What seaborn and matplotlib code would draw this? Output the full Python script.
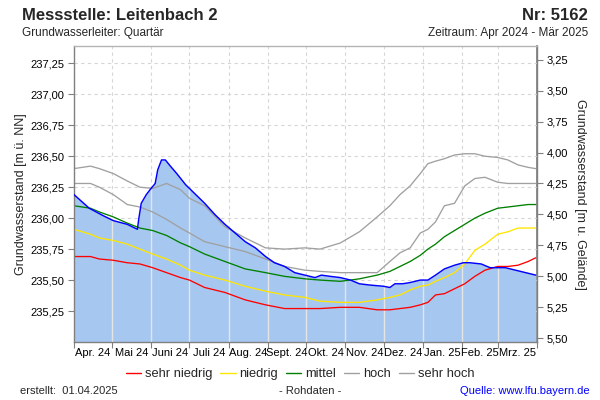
import matplotlib
matplotlib.use("Agg")
import matplotlib.pyplot as plt
from matplotlib.lines import Line2D
from matplotlib.ticker import FuncFormatter
import numpy as np
import pandas as pd
import seaborn as sns

# ---------------- data ----------------
START = "2024-04-01"
GROUND = 240.53  # Geländehöhe [m ü. NN]

stat_days = [0, 13, 20, 31, 42, 52, 62, 73, 84, 91, 103, 119, 135, 151, 166, 182, 194,
             210, 225, 239, 249, 257, 265, 273, 279, 285, 292, 300, 308, 316, 324, 334,
             342, 350, 358, 364]
sehr_hoch = [236.40, 236.42, 236.40, 236.36, 236.30, 236.25, 236.24, 236.28, 236.23, 236.16,
             236.10, 235.93, 235.84, 235.76, 235.75, 235.76, 235.75, 235.80, 235.89, 236.01,
             236.10, 236.19, 236.26, 236.36, 236.44, 236.46, 236.48, 236.51, 236.52, 236.52,
             236.50, 236.49, 236.47, 236.43, 236.41, 236.40]
hoch = [236.28, 236.28, 236.25, 236.19, 236.11, 236.09, 236.05, 235.99, 235.92, 235.88,
        235.81, 235.77, 235.73, 235.67, 235.61, 235.58, 235.57, 235.56, 235.56, 235.56,
        235.65, 235.72, 235.76, 235.88, 235.91, 235.97, 236.10, 236.12, 236.26, 236.32,
        236.33, 236.29, 236.28, 236.28, 236.28, 236.28]
mittel = [236.10, 236.08, 236.05, 236.01, 235.96, 235.92, 235.90, 235.86, 235.80, 235.77,
          235.71, 235.65, 235.59, 235.56, 235.53, 235.51, 235.50, 235.49, 235.51, 235.54,
          235.57, 235.61, 235.65, 235.70, 235.75, 235.79, 235.85, 235.90, 235.95, 236.00,
          236.04, 236.08, 236.09, 236.10, 236.11, 236.11]
niedrig = [235.91, 235.87, 235.84, 235.82, 235.79, 235.75, 235.71, 235.67, 235.62, 235.58,
           235.54, 235.50, 235.45, 235.41, 235.38, 235.36, 235.33, 235.32, 235.32, 235.34,
           235.36, 235.38, 235.42, 235.45, 235.46, 235.49, 235.52, 235.56, 235.63, 235.74,
           235.79, 235.87, 235.89, 235.92, 235.92, 235.92]
sehr_niedrig = [235.69, 235.69, 235.67, 235.66, 235.64, 235.63, 235.60, 235.56, 235.52, 235.50,
                235.44, 235.40, 235.34, 235.30, 235.27, 235.27, 235.27, 235.28, 235.28, 235.26,
                235.26, 235.27, 235.28, 235.30, 235.32, 235.38, 235.39, 235.43, 235.47, 235.53,
                235.58, 235.61, 235.61, 235.62, 235.65, 235.68]

mess_days = [0, 12, 23, 31, 42, 50, 51, 53, 57, 60, 64, 66, 69, 72, 76, 81, 88, 95, 103, 111,
             119, 127, 135, 143, 151, 158, 166, 174, 182, 186, 190, 195, 202, 210, 218, 225,
             233, 244, 249, 253, 259, 265, 273, 279, 285, 292, 300, 307, 312, 321, 328, 340,
             348, 356, 364]
messwerte = [236.19, 236.08, 236.02, 235.98, 235.95, 235.91, 235.99, 236.12, 236.19, 236.23,
             236.28, 236.39, 236.47, 236.47, 236.42, 236.36, 236.27, 236.20, 236.12, 236.03,
             235.95, 235.88, 235.81, 235.76, 235.69, 235.64, 235.61, 235.56, 235.54, 235.53,
             235.52, 235.54, 235.53, 235.52, 235.50, 235.47, 235.46, 235.45, 235.44, 235.47,
             235.47, 235.48, 235.50, 235.50, 235.54, 235.59, 235.62, 235.64, 235.64, 235.63,
             235.60, 235.60, 235.58, 235.56, 235.54]

month_labels = ["Apr. 24", "Mai 24", "Juni 24", "Juli 24", "Aug. 24", "Sept. 24", "Okt. 24",
                "Nov. 24", "Dez. 24", "Jan. 25", "Feb. 25", "Mrz. 25"]
left_ticks = [235.25, 235.50, 235.75, 236.00, 236.25, 236.50, 236.75, 237.00, 237.25]
right_ticks = [3.25, 3.50, 3.75, 4.00, 4.25, 4.50, 4.75, 5.00, 5.25, 5.50]
legend_labels = ["sehr niedrig", "niedrig", "mittel", "hoch", "sehr hoch"]
legend_colors = ["#ff0000", "#ffe600", "#008000", "#a0a0a0", "#a0a0a0"]

# ---------------- style ----------------
sns.set_theme(style="white")
plt.rcParams["font.family"] = ["Liberation Sans", "DejaVu Sans"]


def to_dates(days):
    return pd.Timestamp(START) + pd.to_timedelta(np.asarray(days), unit="D")


fig = plt.figure(figsize=(6, 4), dpi=100)
ax = fig.add_axes([74 / 600, 1 - 342 / 400, (537 - 74) / 600, (342 - 46) / 400])

YMIN, YMAX = 235.00, 237.39
ax.set_ylim(YMIN, YMAX)
month_starts = pd.date_range(START, periods=13, freq="MS")
ax.set_xlim(month_starts[0], month_starts[-1])

mess_dates = to_dates(mess_days)
poly = ax.fill_between(mess_dates, messwerte, YMIN, color="#a6c8f0", linewidth=0, zorder=1)

# solid light verticals inside the fill
clip_path = poly.get_paths()[0]
for m in month_starts[1:-1]:
    vl = ax.axvline(m, color="#e4e4e4", linewidth=1.0, zorder=1.2)
    vl.set_clip_path(clip_path, ax.transData)

stat_dates = to_dates(stat_days)
series = [sehr_niedrig, niedrig, mittel, hoch, sehr_hoch]
for vals, col in zip(series, legend_colors):
    sns.lineplot(x=stat_dates, y=vals, color=col, linewidth=0.95, ax=ax, legend=False, zorder=2)

sns.lineplot(x=mess_dates, y=messwerte, color="#0000ff", linewidth=1.05, ax=ax, legend=False, zorder=3)

# grid
ax.set_axisbelow(True)
ax.set_yticks(left_ticks)
ax.set_xticks(month_starts)
ax.set_xticklabels([""] * len(month_starts))
mids = [month_starts[i] + (month_starts[i + 1] - month_starts[i]) / 2 for i in range(12)]
ax.set_xticks(mids, minor=True)
ax.set_xticklabels(month_labels, minor=True)
ax.grid(True, which="major", linestyle=(0, (3, 3)), color="#d6d6d6", linewidth=0.8)

comma = FuncFormatter(lambda v, p: f"{v:.2f}".replace(".", ","))
ax.yaxis.set_major_formatter(comma)
ax.set_xlabel("")
ax.set_ylabel("")

ax.tick_params(axis="x", which="major", length=4, width=0.8, color="#808080", direction="out", bottom=True)
ax.tick_params(axis="x", which="minor", length=0, labelsize=8, pad=4, labelcolor="#000000")
ax.tick_params(axis="y", which="major", length=4, width=0.8, color="#808080", direction="out",
               left=True, labelsize=8, pad=3, labelcolor="#000000")

for side in ["left", "right", "bottom"]:
    ax.spines[side].set_color("#808080")
    ax.spines[side].set_linewidth(1.0)
ax.spines["top"].set_color("#b4b4b4")
ax.spines["top"].set_linewidth(1.0)

sec = ax.secondary_yaxis("right", functions=(lambda h: GROUND - h, lambda d: GROUND - d))
sec.set_yticks(right_ticks)
sec.yaxis.set_major_formatter(comma)
sec.tick_params(axis="y", length=4, width=0.8, color="#808080", direction="out",
                labelsize=8, pad=3, labelcolor="#000000")
sec.spines["right"].set_color("#808080")

# texts
fig.text(22 / 600, 1 - 15 / 400, "Messstelle: Leitenbach 2", fontsize=12, fontweight="bold",
         ha="left", va="center")
fig.text(588 / 600, 1 - 15 / 400, "Nr: 5162", fontsize=12, fontweight="bold", ha="right", va="center")
fig.text(22 / 600, 1 - 33 / 400, "Grundwasserleiter: Quartär", fontsize=8.5, ha="left", va="center")
fig.text(588 / 600, 1 - 33 / 400, "Zeitraum: Apr 2024 - Mär 2025", fontsize=8.5, ha="right", va="center")
fig.text(21 / 600, 1 - 194 / 400, "Grundwasserstand [m ü. NN]", fontsize=9, rotation=90,
         ha="center", va="center")
fig.text(580 / 600, 1 - 194 / 400, "Grundwasserstand [m u. Gelände]", fontsize=9, rotation=270,
         ha="center", va="center")

handles = [Line2D([0], [0], color=c, linewidth=1.0) for c in legend_colors]
fig.legend(handles, legend_labels, loc="center", bbox_to_anchor=(300 / 600, 1 - 374 / 400),
           ncol=5, frameon=False, fontsize=9.3, handlelength=1.2, handletextpad=0.3,
           columnspacing=0.6, borderpad=0, borderaxespad=0)

fig.text(20 / 600, 1 - 391 / 400, "erstellt:  01.04.2025", fontsize=8, ha="left", va="center")
fig.text(310 / 600, 1 - 391 / 400, "- Rohdaten -", fontsize=8, ha="center", va="center")
fig.text(590 / 600, 1 - 391 / 400, "Quelle: www.lfu.bayern.de", fontsize=8, ha="right", va="center",
         color="#0000ff")

fig.savefig("out.png", dpi=100)
